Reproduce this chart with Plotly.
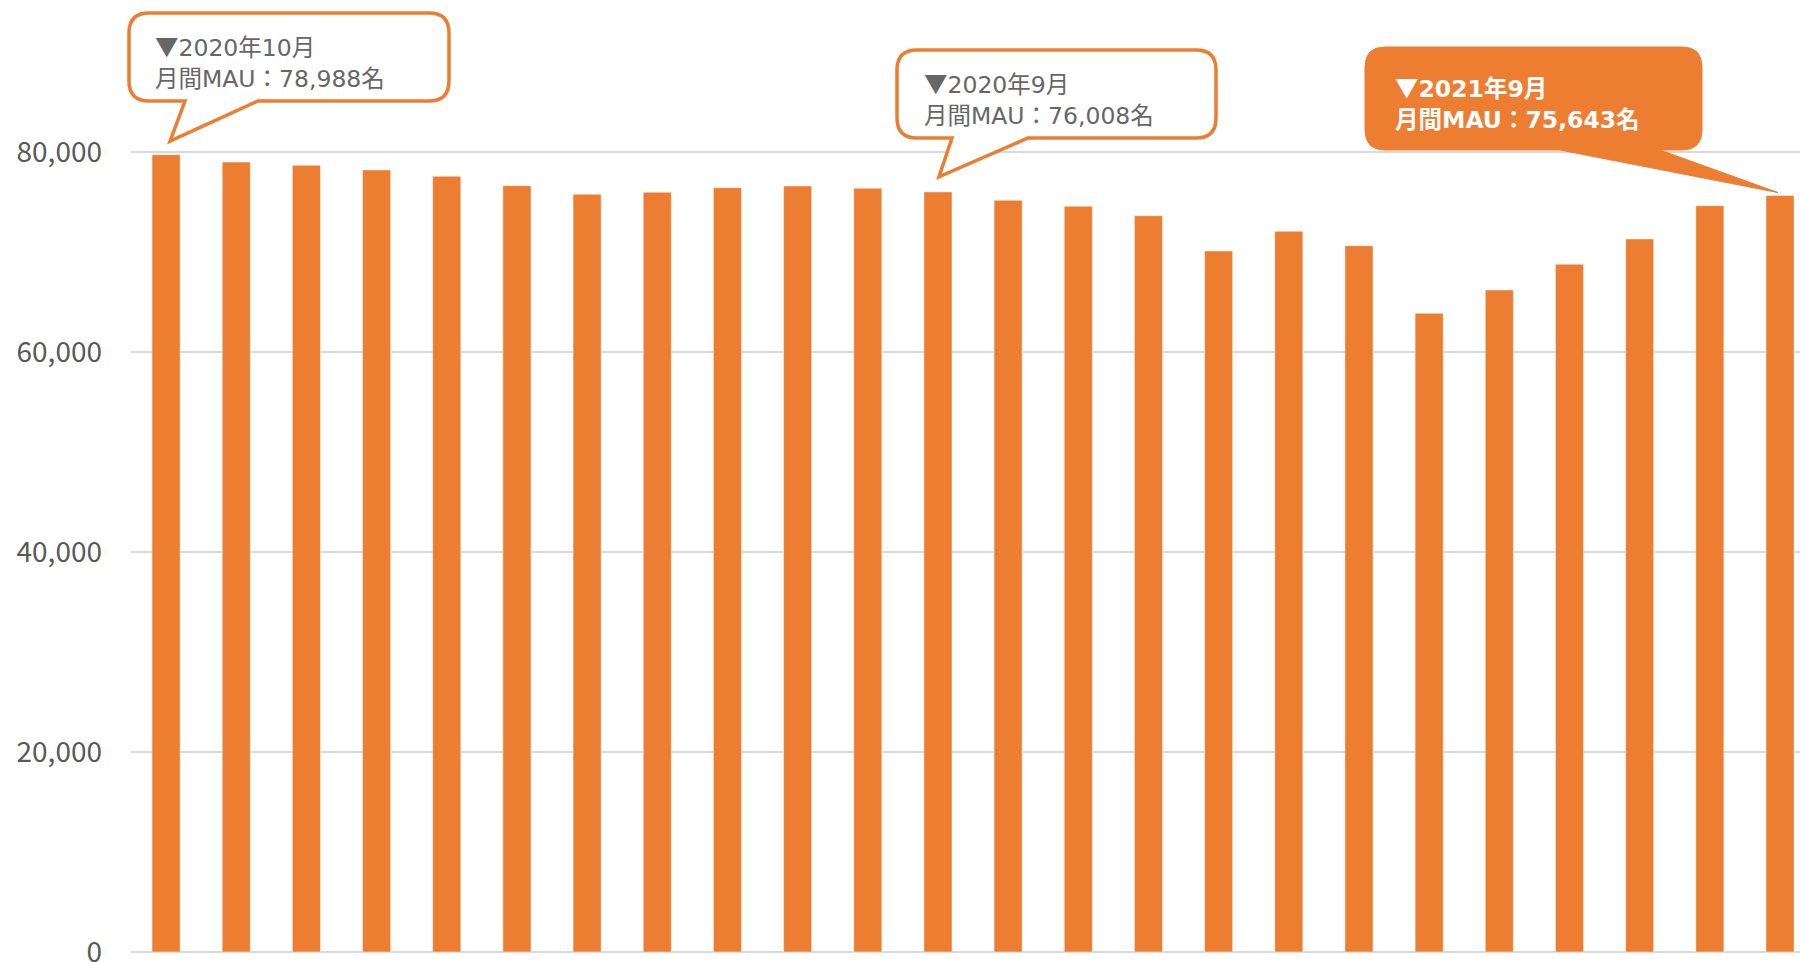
import plotly.graph_objects as go

# ---------------- data ----------------
months = [
    "2019年10月", "2019年11月", "2019年12月", "2020年1月", "2020年2月", "2020年3月",
    "2020年4月", "2020年5月", "2020年6月", "2020年7月", "2020年8月", "2020年9月",
    "2020年10月", "2020年11月", "2020年12月", "2021年1月", "2021年2月", "2021年3月",
    "2021年4月", "2021年5月", "2021年6月", "2021年7月", "2021年8月", "2021年9月",
]
mau = [
    79730, 78988, 78670, 78200, 77570, 76630,
    75770, 75970, 76430, 76600, 76370, 76008,
    75170, 74570, 73630, 70100, 72070, 70630,
    63870, 66200, 68770, 71300, 74630, 75643,
]
y_ticks = [0, 20000, 40000, 60000, 80000]

TRI = '<span style="font-family:Noto Sans CJK JP">▼</span>'

# callouts: which bar, text lines, style
callouts = [
    dict(idx=0, line1=TRI + "2020年10月", line2="月間MAU：78,988名", filled=False,
         box=(129, 13, 449, 101), tail=(185, 258), tip_off=(4, 13.5), text_xy=(153, 61)),
    dict(idx=11, line1=TRI + "2020年9月", line2="月間MAU：76,008名", filled=False,
         box=(897, 50, 1216, 138), tail=(952, 1028), tip_off=(1, 15), text_xy=(922, 98)),
    dict(idx=23, line1="<b>" + TRI + "2021年9月</b>", line2="<b>月間MAU：75,643名</b>", filled=True,
         box=(1365, 47, 1702, 150), tail=(1560, 1660), tip_off=(-2, 3), text_xy=(1393, 102)),
]

# ---------------- layout constants ----------------
W, H = 1800, 962
ML, MR, MT, MB = 131, 0, 0, 7
PLOT_W = W - ML - MR
PLOT_H = H - MT - MB
X_RANGE = [-0.5, 23.285]
Y_RANGE = [-300, 95200]
ORANGE = "#ED7D31"
FONT = "Noto Sans CJK JP"
CALLOUT_FONT = "DejaVu Sans, Noto Sans CJK JP"

val_per_px = (Y_RANGE[1] - Y_RANGE[0]) / PLOT_H


def px2paper(px):
    return (px - ML) / PLOT_W


def idx2paper(i):
    return (i - X_RANGE[0]) / (X_RANGE[1] - X_RANGE[0])


def py2y(py):
    return Y_RANGE[1] - (py - MT) * val_per_px


fig = go.Figure()
fig.add_trace(go.Bar(
    x=months, y=mau, width=0.4,
    marker=dict(color=ORANGE, line=dict(color="rgba(255,255,255,0.45)", width=1)),
    hoverinfo="x+y",
))

shapes = []
annotations = []
for c in callouts:
    x0, y0, x1, y1 = c["box"]
    r = 20
    tb0, tb1 = c["tail"]
    tipx = idx2paper(c["idx"]) + c["tip_off"][0] / PLOT_W
    tipy = mau[c["idx"]] + c["tip_off"][1] * val_per_px

    def P(px, py):
        return f"{px2paper(px):.6f},{py2y(py):.3f}"

    path = (
        f"M {P(x0 + r, y0)} L {P(x1 - r, y0)} Q {P(x1, y0)} {P(x1, y0 + r)} "
        f"L {P(x1, y1 - r)} Q {P(x1, y1)} {P(x1 - r, y1)} "
        f"L {P(tb1, y1)} L {tipx:.6f},{tipy:.3f} L {P(tb0, y1)} "
        f"L {P(x0 + r, y1)} Q {P(x0, y1)} {P(x0, y1 - r)} "
        f"L {P(x0, y0 + r)} Q {P(x0, y0)} {P(x0 + r, y0)} Z"
    )
    if c["filled"]:
        shapes.append(dict(type="path", xref="paper", yref="y", path=path,
                           fillcolor=ORANGE, line=dict(color=ORANGE, width=1), layer="above"))
        tcolor = "#FFFFFF"
    else:
        shapes.append(dict(type="path", xref="paper", yref="y", path=path,
                           fillcolor="#FFFFFF", line=dict(color=ORANGE, width=3.5), layer="above"))
        tcolor = "#666666"
    tx, ty = c["text_xy"]
    annotations.append(dict(
        xref="paper", yref="y", x=px2paper(tx), y=py2y(ty),
        xanchor="left", yanchor="middle", align="left",
        text=c["line1"] + "<br>" + c["line2"], showarrow=False,
        font=dict(family=CALLOUT_FONT, size=23.5, color=tcolor),
    ))

fig.update_layout(
    width=W, height=H,
    margin=dict(l=ML, r=MR, t=MT, b=MB, pad=0, autoexpand=False),
    paper_bgcolor="white", plot_bgcolor="white",
    font=dict(family=FONT, color="#595959"),
    showlegend=False,
    bargap=0.6,
    xaxis=dict(type="category", range=X_RANGE, showticklabels=False, showgrid=False,
               zeroline=False, showline=False, ticks="", automargin=False),
    yaxis=dict(range=Y_RANGE, tickvals=y_ticks, tickformat=",", showgrid=True,
               gridcolor="#D9D9D9", gridwidth=1.5, zeroline=False, showline=False,
               ticks="", ticklabelstandoff=28, ticklabeloverflow="allow", automargin=False,
               tickfont=dict(family=FONT, size=28, color="#595959")),
    shapes=shapes,
    annotations=annotations,
)

fig.write_html("out.html")
